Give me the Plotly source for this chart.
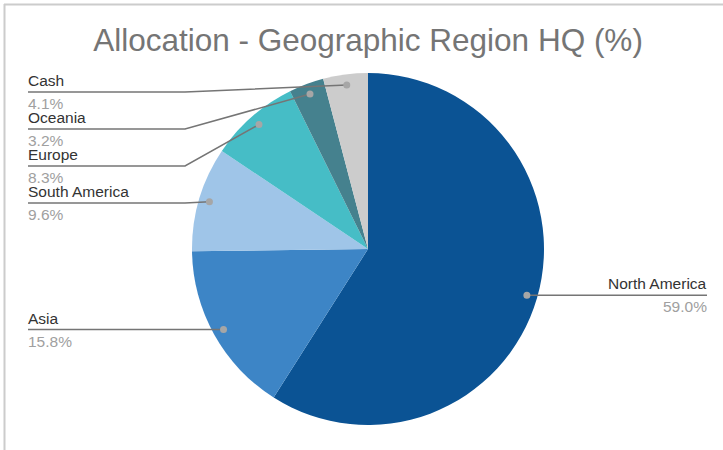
import math
import plotly.graph_objects as go

regions = ["North America", "Asia", "South America", "Europe", "Oceania", "Cash"]
shares = [59.0, 15.8, 9.6, 8.3, 3.2, 4.1]
labels_pct = ["59.0%", "15.8%", "9.6%", "8.3%", "3.2%", "4.1%"]
colors = ["#0b5394", "#3d85c6", "#9fc5e8", "#46bdc6", "#45818e", "#cccccc"]

W, H = 723, 450
cx, cy, R = 368, 249, 176
FONT = "Arial"
LBL = 15.5


def px(x, y):
    # pixel -> paper coords
    return x / W, 1 - y / H


fig = go.Figure(go.Pie(
    labels=regions, values=shares, sort=False, direction="clockwise",
    rotation=0, marker=dict(colors=colors, line=dict(width=0)),
    textinfo="none", hoverinfo="label+percent", showlegend=False,
    domain=dict(x=[(cx - R) / W, (cx + R) / W],
                y=[1 - (cy + R) / H, 1 - (cy - R) / H]),
))

# anchor dots at the middle angle of each slice
total = sum(shares)
acc = 0
points = []
for name, val, pct in zip(regions, shares, labels_pct):
    mid = (acc + val / 2) / total * 2 * math.pi
    acc += val
    r = 0.94 * R
    points.append((name, pct, cx + r * math.sin(mid), cy - r * math.cos(mid)))

shapes = []
annotations = []
line_col = "#757575"

left = sorted([p for p in points if p[2] < cx], key=lambda p: p[3])
right = sorted([p for p in points if p[2] >= cx], key=lambda p: p[3])

prev = None
for name, pct, dx, dy in left:
    ly = max(dy, 92) if prev is None else max(dy, prev + 37)
    prev = ly
    elbow = 185 if ly != dy else dx
    x0, y0 = px(28, ly)
    x1, y1 = px(elbow, ly)
    x2, y2 = px(dx, dy)
    shapes.append(dict(type="path", xref="paper", yref="paper", layer="above",
                       path=f"M {x0} {y0} L {x1} {y1} L {x2} {y2}",
                       line=dict(color=line_col, width=1.5)))
    annotations.append(dict(x=x0, y=y0, xref="paper", yref="paper", text=name,
                            xanchor="left", yanchor="bottom", showarrow=False,
                            xshift=-2, yshift=1, font=dict(size=LBL, color="#333333", family=FONT)))
    annotations.append(dict(x=x0, y=y0, xref="paper", yref="paper", text=pct,
                            xanchor="left", yanchor="top", showarrow=False,
                            xshift=-2, yshift=-1, font=dict(size=LBL, color="#a0a0a0", family=FONT)))

for name, pct, dx, dy in right:
    x0, y0 = px(dx, dy)
    x1, y1 = px(707, dy)
    shapes.append(dict(type="path", xref="paper", yref="paper", layer="above",
                       path=f"M {x0} {y0} L {x1} {y1}",
                       line=dict(color=line_col, width=1.5)))
    annotations.append(dict(x=x1, y=y1, xref="paper", yref="paper", text=name,
                            xanchor="right", yanchor="bottom", showarrow=False,
                            xshift=2, yshift=1, font=dict(size=LBL, color="#333333", family=FONT)))
    annotations.append(dict(x=x1, y=y1, xref="paper", yref="paper", text=pct,
                            xanchor="right", yanchor="top", showarrow=False,
                            xshift=2, yshift=-1, font=dict(size=LBL, color="#a0a0a0", family=FONT)))

for name, pct, dx, dy in points:
    a0, b0 = px(dx - 3.5, dy + 3.5)
    a1, b1 = px(dx + 3.5, dy - 3.5)
    shapes.append(dict(type="circle", xref="paper", yref="paper", layer="above",
                       x0=a0, y0=b0, x1=a1, y1=b1,
                       fillcolor="#a6a6a6", line=dict(width=0)))

# frame lines of the screenshot
shapes.append(dict(type="line", xref="paper", yref="paper", x0=px(4, 4.5)[0], y0=px(4, 4.5)[1],
                   x1=1, y1=px(4, 4.5)[1], line=dict(color="#cccccc", width=2)))
shapes.append(dict(type="line", xref="paper", yref="paper", x0=px(4.5, 4)[0], y0=px(4.5, 4)[1],
                   x1=px(4.5, 4)[0], y1=0, line=dict(color="#cccccc", width=2)))

fig.update_layout(
    width=W, height=H,
    margin=dict(l=0, r=0, t=0, b=0),
    paper_bgcolor="white", plot_bgcolor="white",
    title=dict(text="Allocation - Geographic Region HQ (%)",
               x=px(368, 41)[0], y=px(368, 40)[1], xanchor="center", yanchor="middle",
               font=dict(size=31.5, color="#757575", family=FONT)),
    shapes=shapes, annotations=annotations,
)

fig.write_html("out.html", config={"displayModeBar": False},
               post_script="document.body.style.margin = '0';")
